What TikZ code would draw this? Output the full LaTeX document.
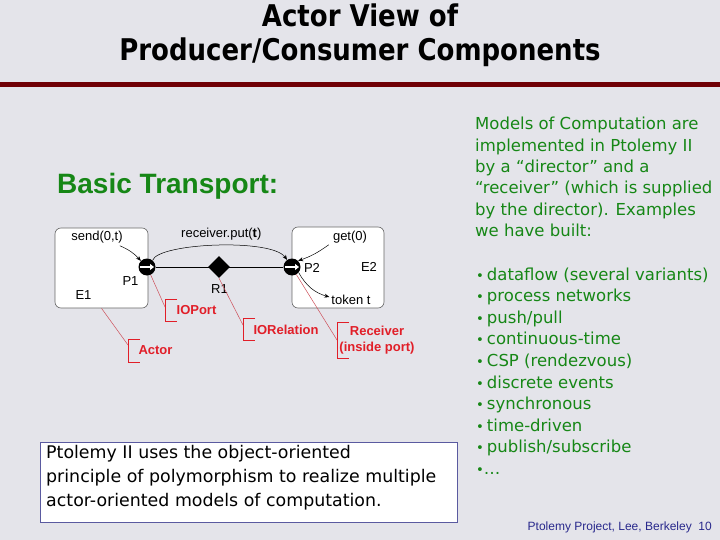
\documentclass[tikz,border=0pt]{standalone}
\usepackage{fontspec}
\setmainfont{DejaVu Sans}
\newfontfamily\arialf{Liberation Sans}
\usetikzlibrary{shapes.geometric,arrows.meta}
\definecolor{bg}{RGB}{228,228,234}
\definecolor{titlered}{RGB}{112,0,6}
\definecolor{gtext}{RGB}{22,135,22}
\definecolor{lred}{RGB}{225,30,40}
\definecolor{leader}{RGB}{205,80,90}
\definecolor{boxblue}{RGB}{90,90,160}
\definecolor{footblue}{RGB}{40,40,140}
\begin{document}
\begin{tikzpicture}[x=1pt,y=-1pt,
  titlef/.style={font=\bfseries\fontsize{26}{30}\selectfont, inner sep=0pt, anchor=base},
  lbl/.style={font=\arialf\fontsize{13}{15}\selectfont, inner sep=0pt},
  redlbl/.style={font=\arialf\bfseries\fontsize{13}{16.5}\selectfont, text=lred, inner sep=0pt},
  actorbox/.style={draw=black!60, fill=white, rounded corners=6pt, line width=0.6pt, inner sep=0pt},
  port/.style={circle, fill=black, minimum size=17pt, inner sep=0pt},
  relation/.style={diamond, fill=black, minimum size=22pt, inner sep=0pt},
  flow/.style={-{Stealth[length=5pt,width=4pt]}, line width=0.5pt},
  portarrow/.style={white, line width=1.5pt, -{Triangle[length=4pt,width=6pt]}},
  leaderline/.style={draw=leader, line width=0.5pt},
  bracket/.style={draw=lred, line width=0.8pt},
  gline/.style={font=\fontsize{16.5}{21.5}\selectfont, text=gtext, inner sep=0pt, anchor=base west},
  bline/.style={font=\fontsize{17.4}{24}\selectfont, text=black, inner sep=0pt, anchor=base west}
]
\useasboundingbox (0,0) rectangle (720,540);
\fill[bg] (0,0) rectangle (720,540);

% title
\node[titlef] (t1) at (360,26.7) {\scalebox{1}[1.15]{Actor View of}};
\node[titlef] (t2) at (360,61) {\scalebox{1}[1.15]{Producer/Consumer Components}};
\fill[titlered] (0,82) rectangle (720,87);

% Basic Transport
\node[font=\arialf\bfseries\fontsize{28}{32}\selectfont, text=gtext, inner sep=0pt, anchor=base west] (bt) at (57,194) {Basic Transport:};

% actors
\node[actorbox, minimum width=93pt, minimum height=80pt] (E1box) at (101.5,268) {};
\node[actorbox, minimum width=92pt, minimum height=81pt] (E2box) at (338,267.5) {};

% ports and relation
\node[port] (P1) at (147,267) {};
\node[port] (P2) at (292,267) {};
\draw[line width=0.8pt] (P1) -- (P2);
\node[relation] (R1) at (219,267) {};
\draw[portarrow] ([xshift=-7pt]P1.center) -- ([xshift=7pt]P1.center);
\draw[portarrow] ([xshift=-7pt]P2.center) -- ([xshift=7pt]P2.center);

% black labels
\node[lbl] (lP1) at (130.5,281.5) {P1};
\node[lbl] (lE1) at (83.5,295) {E1};
\node[lbl] (lR1) at (219.5,289.5) {R1};
\node[lbl] (lP2) at (312,267.5) {P2};
\node[lbl] (lE2) at (369,266.7) {E2};
\node[lbl] (send) at (97,237.5) {send(0,t)};
\node[lbl, anchor=west] (put) at (181,234) {receiver.put(\textbf{t})};
\node[lbl] (get) at (350,237.5) {get(0)};
\node[lbl] (tok) at (351,300) {token t};

% flow arrows
\draw[flow] ([xshift=-3pt,yshift=-2pt]send.south east) to[bend left=12] (P1.135);
\draw[flow] (P1.50) .. controls (158,243) and (272,238) .. (P2.125);
\draw[flow] ([xshift=-4pt,yshift=-1pt]get.south west) to[bend left=8] (P2.45);
\draw[flow] (P2.-40) to[bend right=22] ([xshift=-2pt,yshift=-2pt]tok.north west);

% red annotation brackets
\coordinate (kActor) at (128,339);
\coordinate (kIOPort) at (165,299);
\coordinate (kIORel) at (243,318);
\coordinate (kRecv) at (337,322);
\draw[bracket] ([xshift=12pt]kActor) -- (kActor) -- ++(0,23) -- ++(12,0);
\draw[bracket] ([xshift=12pt]kIOPort) -- (kIOPort) -- ++(0,22) -- ++(12,0);
\draw[bracket] ([xshift=12pt]kIORel) -- (kIORel) -- ++(0,22) -- ++(12,0);
\draw[bracket] ([xshift=12pt]kRecv) -- (kRecv) -- ++(0,36) -- ++(12,0);

\coordinate (eActor) at (128,345);
\coordinate (eIOPort) at (165,307);
\coordinate (eIORel) at (243,325);
\coordinate (eRecv) at (337,340);
\draw[leaderline] (E1box.south) -- (eActor);
\draw[leaderline] (P1.-65) -- (eIOPort);
\draw[leaderline] (R1.south) -- (eIORel);
\draw[leaderline] (P2.-60) -- (eRecv);

\node[redlbl] (actor) at (155.5,350) {Actor};
\node[redlbl] (ioport) at (196.5,310) {IOPort};
\node[redlbl] (iorel) at (286,330) {IORelation};
\node[redlbl, align=center] (recv) at (377,340) {Receiver\\(inside port)};

% right text
\foreach \t [count=\i] in {Models of Computation are, implemented in Ptolemy II, by a “director” and a, “receiver” (which is supplied, by the director). Examples, we have built:}
  \node[gline] (m\i) at (475,{130+21.3*(\i-1)}) {\t};
\foreach \t [count=\i] in {dataflow (several variants), process networks, push/pull, continuous-time, CSP (rendezvous), discrete events, synchronous, time-driven, publish/subscribe}
  \node[gline] (b\i) at (476,{280+21.6*(\i-1)}) {\scalebox{0.8}{•}\hspace{3pt}\t};
\node[gline] (b10) at (476,{280+21.6*9}) {\scalebox{0.8}{•}…};

% bottom box
\node[draw=boxblue, fill=white, line width=1pt, minimum width=417pt, minimum height=80pt, inner sep=0pt] (pbox) at (248.5,482) {};
\node[bline] (p1) at (46,458) {Ptolemy II uses the object-oriented};
\node[bline] (p2) at (46,482) {principle of polymorphism to realize multiple};
\node[bline] (p3) at (46,506) {actor-oriented models of computation.};

% footer
\node[font=\arialf\fontsize{12}{14}\selectfont, text=footblue, inner sep=0pt, anchor=base east] (foot) at (712,530) {Ptolemy Project, Lee, Berkeley\ \ 10};
\end{tikzpicture}
\end{document}
